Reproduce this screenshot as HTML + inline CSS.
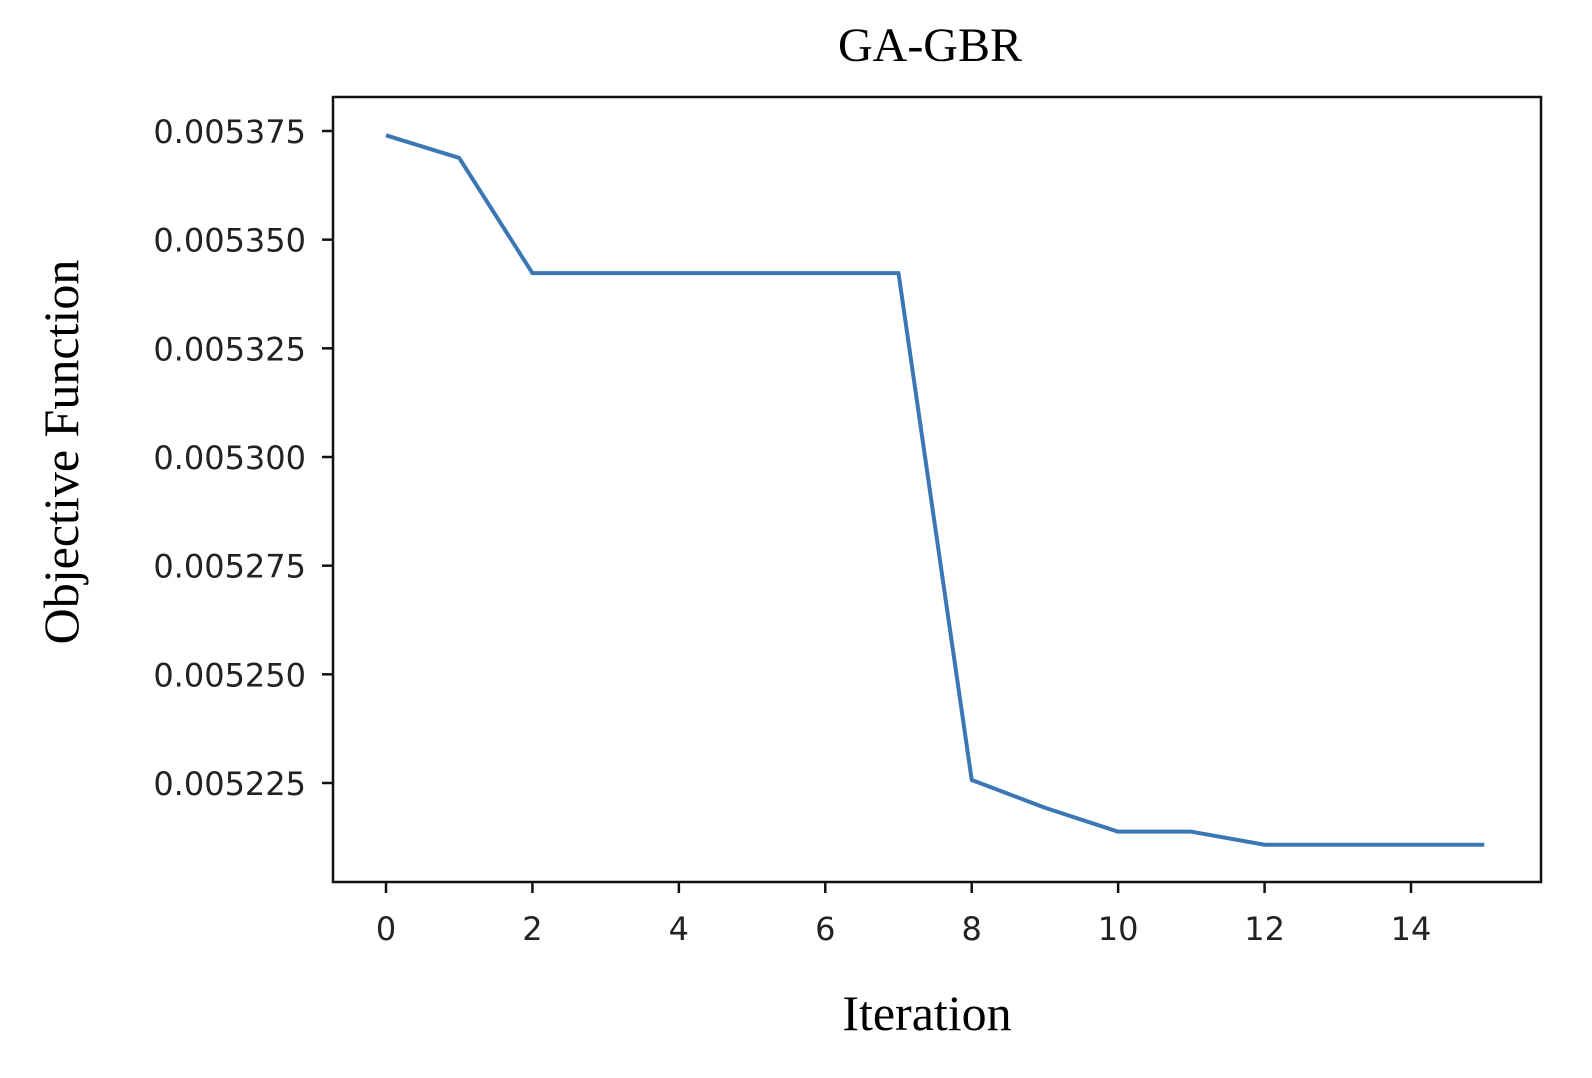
<!DOCTYPE html>
<html><head><meta charset="utf-8"><style>
html,body{margin:0;padding:0;background:#fff;}
svg{display:block;}
</style></head><body>
<svg id="chart" width="1592" height="1078" xmlns="http://www.w3.org/2000/svg">
<text x="930" y="61" text-anchor="middle" font-family="Liberation Serif, serif" font-size="48" fill="#000">GA-GBR</text>
<rect x="333" y="97" width="1208" height="785" fill="none" stroke="#111" stroke-width="2.5"/>
<g id="xticks"></g>
<g id="yticks"></g>
<polyline id="series" fill="none" stroke="#3a77b4" stroke-width="4" stroke-linejoin="round"/>
<text x="927" y="1030" text-anchor="middle" font-family="Liberation Serif, serif" font-size="50" fill="#000">Iteration</text>
<text transform="translate(78,452) rotate(-90)" text-anchor="middle" font-family="Liberation Serif, serif" font-size="50" fill="#000">Objective Function</text>
</svg>
<script>
const iterations=[0,1,2,3,4,5,6,7,8,9,10,11,12,13,14,15];
const objective=[0.005374,0.0053688,0.0053423,0.0053423,0.0053423,0.0053423,0.0053423,0.0053423,0.0052257,0.0052193,0.0052138,0.0052138,0.0052108,0.0052108,0.0052108,0.0052108];
const xTicks=[0,2,4,6,8,10,12,14];
const yTicks=[0.005225,0.00525,0.005275,0.0053,0.005325,0.00535,0.005375];
const yTickLabels=["0.005225","0.005250","0.005275","0.005300","0.005325","0.005350","0.005375"];
const NS="http://www.w3.org/2000/svg";
function xs(v){return 386+(v-0)*(1411-386)/14;}
function ys(v){return 783+(v-0.005225)*(131-783)/0.00015;}
const xg=document.getElementById('xticks'),yg=document.getElementById('yticks');
xTicks.forEach(t=>{
 const l=document.createElementNS(NS,'line');
 
 
 l.setAttribute('x1',xs(t));l.setAttribute('x2',xs(t));l.setAttribute('y1',882);l.setAttribute('y2',893);
 l.setAttribute('stroke','#111');l.setAttribute('stroke-width','2.5');xg.appendChild(l);
 const tx=document.createElementNS(NS,'text');
 
 
 tx.setAttribute('x',xs(t));tx.setAttribute('y',940);tx.setAttribute('text-anchor','middle');
 tx.setAttribute('font-family','DejaVu Sans, sans-serif');tx.setAttribute('font-size','32');tx.setAttribute('fill','#222');
 tx.textContent=t;xg.appendChild(tx);
});
yTicks.forEach((t,i)=>{
 const l=document.createElementNS(NS,'line');
 
 
 l.setAttribute('x1',322);l.setAttribute('x2',333);l.setAttribute('y1',ys(t));l.setAttribute('y2',ys(t));
 l.setAttribute('stroke','#111');l.setAttribute('stroke-width','2.5');yg.appendChild(l);
 const tx=document.createElementNS(NS,'text');
 
 
 tx.setAttribute('x',306);tx.setAttribute('y',ys(t)+12);tx.setAttribute('text-anchor','end');
 tx.setAttribute('font-family','DejaVu Sans, sans-serif');tx.setAttribute('font-size','32');tx.setAttribute('fill','#222');
 tx.textContent=yTickLabels[i];yg.appendChild(tx);
});
document.getElementById('series').setAttribute('points',iterations.map((v,i)=>xs(v)+','+ys(objective[i])).join(' '));
</script>
</body></html>
